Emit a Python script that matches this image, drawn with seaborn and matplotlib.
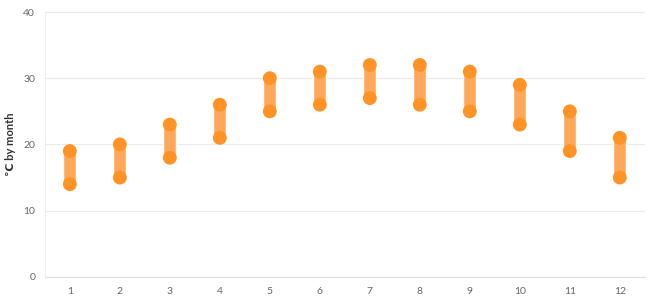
import seaborn as sns
import matplotlib.pyplot as plt
import pandas as pd

months = ["1", "2", "3", "4", "5", "6", "7", "8", "9", "10", "11", "12"]
low = [14, 15, 18, 21, 25, 26, 27, 26, 25, 23, 19, 15]
high = [19, 20, 23, 26, 30, 31, 32, 32, 31, 29, 25, 21]

df = pd.DataFrame({"month": months, "low": low, "high": high})

sns.set_style("white")
plt.rcParams["font.family"] = ["Lato", "DejaVu Sans"]

fig = plt.figure(figsize=(6.5, 3), dpi=100)
ax = fig.add_axes([0.069, 0.077, 0.923, 0.883])

# range bars
ax.bar(range(len(months)), df["high"] - df["low"], bottom=df["low"],
       width=0.26, color="#ffa85a", zorder=2)

# end points
sns.scatterplot(data=df, x="month", y="low", s=100, color="#ff9326",
                edgecolor="none", ax=ax, zorder=3)
sns.scatterplot(data=df, x="month", y="high", s=100, color="#ff9326",
                edgecolor="none", ax=ax, zorder=3)

ax.set_xlim(-0.5, 11.5)
ax.set_ylim(0, 40)
ax.set_yticks([0, 10, 20, 30, 40])
ax.grid(axis="y", color="#ebebeb", linewidth=0.8)
ax.set_axisbelow(True)

for s in ["top", "right"]:
    ax.spines[s].set_visible(False)
ax.spines["left"].set_color("#eeeeee")
ax.spines["bottom"].set_color("#e0e0e0")
ax.spines["left"].set_linewidth(0.8)
ax.spines["bottom"].set_linewidth(0.8)

ax.tick_params(axis="x", length=4, color="#dddddd", labelsize=7.5,
               labelcolor="#666666", pad=3)
ax.tick_params(axis="y", length=0, labelsize=7.5, labelcolor="#666666", pad=7)

ax.set_xlabel("")
ax.set_ylabel("℃ by month", fontsize=8, fontweight="bold", color="#333333",
              labelpad=5)

fig.savefig("out.png", dpi=100)
